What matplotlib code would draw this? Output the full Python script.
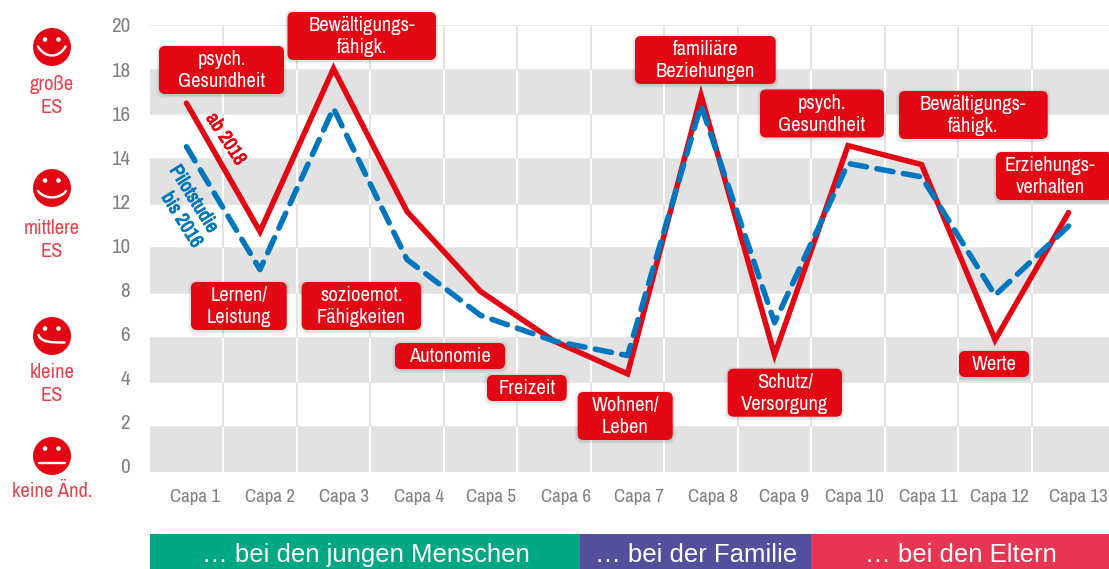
import matplotlib
matplotlib.use("Agg")
import matplotlib.pyplot as plt
import matplotlib.patheffects as pe
from matplotlib.patches import Circle, FancyBboxPatch, PathPatch, Rectangle
from matplotlib.path import Path
from matplotlib.transforms import ScaledTranslation
from matplotlib import font_manager as fm

names = {f.name for f in fm.fontManager.ttflist}
NARROW = next(n for n in ['Liberation Sans Narrow', 'Archivo Narrow', 'Roboto Condensed', 'Roboto', 'DejaVu Sans'] if n in names)
WIDE = 'Liberation Sans'

categories = [f'Capa {i}' for i in range(1, 14)]
ab_2018 = [16.5, 10.75, 18.05, 11.65, 8.07, 5.85, 4.38, 16.85, 5.23, 14.6, 13.75, 5.9, 11.6]
pilot_2016 = [14.55, 9.05, 16.27, 9.5, 7.0, 5.85, 5.2, 16.4, 6.67, 13.8, 13.2, 7.9, 11.0]
y_ticks = list(range(0, 21, 2))
scale_labels = ['große\nES', 'mittlere\nES', 'kleine\nES', 'keine Änd.']
group_labels = ['\u2026 bei den jungen Menschen', '\u2026 bei der Familie', '\u2026 bei den Eltern']

W, H = 1109, 569
DPI = 100
RED = '#E30613'
BLUE = '#0076BE'
BAND = '#E2E2E2'
GRID = '#E4E4E4'
px = 72 / DPI

fig = plt.figure(figsize=(W / DPI, H / DPI), dpi=DPI, facecolor='white')
L, R, T, B = 149.5, 1109, 25, 471.7
ax = fig.add_axes([L / W, 1 - B / H, (R - L) / W, (B - T) / H], zorder=1)
x = list(range(1, 14))
ax.set_xlim(0.497, 13.55)
ax.set_ylim(0, 20)
for s in ax.spines.values():
    s.set_visible(False)

# grid and bands
for v in [i + 0.5 for i in range(1, 13)]:
    ax.axvline(v, color=GRID, lw=2 * px, zorder=1)
for v in range(2, 21, 2):
    ax.axhline(v, color=GRID, lw=1.5 * px, zorder=1)
for lo in range(0, 20, 4):
    ax.axhspan(lo, lo + 2, color=BAND, lw=0, zorder=2)
    for v in [i + 0.5 for i in range(1, 13)]:
        ax.plot([v, v], [lo, lo + 2], color='white', lw=2 * px, zorder=3, solid_capstyle='butt')

ax.plot(x, ab_2018, color=RED, lw=5.5 * px, zorder=5, solid_joinstyle='miter', solid_capstyle='round')
ax.plot(x, pilot_2016, color=BLUE, lw=5.5 * px, zorder=6, dashes=(3.0, 1.9),
        dash_capstyle='round', dash_joinstyle='round')

# ticks
ax.set_xticks(x, categories)
ax.set_yticks(y_ticks, [str(v) for v in y_ticks])
ax.tick_params(length=0)
ax.tick_params(axis='y', pad=19.5 * px)
ax.tick_params(axis='x', pad=17 * px)
x_shift = [8.5, 10, 11, 12, 10, 12, 11.5, 12, 9.5, 6, 6.5, 4, 9.5]
for lab, dx in zip(ax.get_xticklabels(), x_shift):
    lab.set(fontfamily=NARROW, fontsize=19 * px, color='#808080')
    lab.set_transform(lab.get_transform() + ScaledTranslation(dx / DPI, 0, fig.dpi_scale_trans))
for lab, v in zip(ax.get_yticklabels(), y_ticks):
    lab.set(fontfamily=NARROW, fontsize=21 * px, color='#808080')
    lab.set_transform(lab.get_transform() + ScaledTranslation(0, (20 - v) * 0.29 / DPI, fig.dpi_scale_trans))

# overlay in pixel coordinates
ov = fig.add_axes([0, 0, 1, 1], zorder=2)
ov.set_xlim(0, W)
ov.set_ylim(H, 0)
ov.axis('off')
ov.patch.set_alpha(0)

boxes = [
    (159, 46, 284, 94, 'psych.\nGesundheit'),
    (287.5, 12, 436, 60, 'Bewältigungs-\nfähigk.'),
    (635, 36, 775.7, 84, 'familiäre\nBeziehungen'),
    (760, 89.5, 884, 137.5, 'psych.\nGesundheit'),
    (899, 91, 1047.7, 139, 'Bewältigungs-\nfähigk.'),
    (996, 152, 1112, 200, 'Erziehungs-\nverhalten'),
    (191, 282, 286.7, 330, 'Lernen/\nLeistung'),
    (301.7, 282, 421, 330, 'sozioemot.\nFähigkeiten'),
    (395, 343, 505, 369, 'Autonomie'),
    (487, 375, 566.7, 401, 'Freizeit'),
    (577.7, 392, 672.7, 440, 'Wohnen/\nLeben'),
    (727.7, 368.7, 842, 416.7, 'Schutz/\nVersorgung'),
    (959, 351, 1029, 377, 'Werte'),
]
RAD = 6
for x0, y0, x1, y1, txt in boxes:
    for grow, a in [(3, 0.03), (2, 0.04), (1, 0.05)]:
        ov.add_patch(FancyBboxPatch((x0 + RAD - grow, y0 + RAD - grow + 1), x1 - x0 - 2 * RAD + 2 * grow,
                                    y1 - y0 - 2 * RAD + 2 * grow,
                                    boxstyle=f'round,pad={RAD},rounding_size={RAD + 1}',
                                    fc='black', ec='none', alpha=a, zorder=7))
    ov.add_patch(FancyBboxPatch((x0 + RAD, y0 + RAD), x1 - x0 - 2 * RAD, y1 - y0 - 2 * RAD,
                                boxstyle=f'round,pad={RAD},rounding_size={RAD}',
                                fc=RED, ec='none', zorder=8))
    cx = (x0 + min(x1, 1105)) / 2
    ov.text(cx, (y0 + y1) / 2 + 0.5, txt, color='white', ha='center', va='center', fontfamily=NARROW,
            fontsize=20.5 * px, linespacing=1.2, zorder=9)

# rotated series labels
for tx, ty, txt, col, rot in [(226, 139, 'ab 2018', RED, -57), (194, 199, 'Pilotstudie', BLUE, -58),
                              (182, 220, 'bis 2016', BLUE, -58)]:
    ov.text(tx, ty, txt, color=col, fontfamily=NARROW, fontsize=19.5 * px, rotation=rot,
            ha='center', va='center', rotation_mode='anchor', zorder=9,
            path_effects=[pe.withStroke(linewidth=0.9 * px, foreground=col)])

# smileys and scale labels
faces = [
    (47, Path([(38, 46.5), (45, 58.5), (59, 58.5), (65.5, 46.5)], [Path.MOVETO, Path.CURVE4, Path.CURVE4, Path.CURVE4])),
    (188, Path([(38, 191), (44, 199.5), (60, 199.5), (66, 191)], [Path.MOVETO, Path.CURVE4, Path.CURVE4, Path.CURVE4])),
    (336, Path([(38.5, 335), (41, 342.5), (52, 342.5), (64.5, 342.5)], [Path.MOVETO, Path.CURVE4, Path.CURVE4, Path.CURVE4])),
    (456, Path([(38.5, 462.8), (64.5, 462.8)], [Path.MOVETO, Path.LINETO])),
]
label_y = [96, 240, 384, 491]
for (cy, mouth), lab, ly in zip(faces, scale_labels, label_y):
    ov.add_patch(Circle((52, cy), 19, fc=RED, ec='none', zorder=8))
    for ex in (-7, 6.5):
        ov.add_patch(Circle((52 + ex, cy - 7.5), 2.3, fc='white', ec='none', zorder=9))
    ov.add_patch(PathPatch(mouth, fc='none', ec='white', lw=2.4 * px, capstyle='round', zorder=9))
    ov.text(52, ly, lab, color='#E8414C', ha='center', va='center', fontfamily=NARROW,
            fontsize=20.5 * px, linespacing=1.22)

# group header bars
bars = [(150, 580, '#00A783', 366), (580, 811, '#544F9C', 696), (811, 1109, '#E93554', 961)]
for (x0, x1, col, cx), lab in zip(bars, group_labels):
    ov.add_patch(Rectangle((x0, 534), x1 - x0, 35, fc=col, ec='none'))
    ov.text(cx, 555, lab, color='white', ha='center', va='center', fontfamily=WIDE, fontsize=25.7 * px)

fig.savefig('out.png', dpi=DPI)
